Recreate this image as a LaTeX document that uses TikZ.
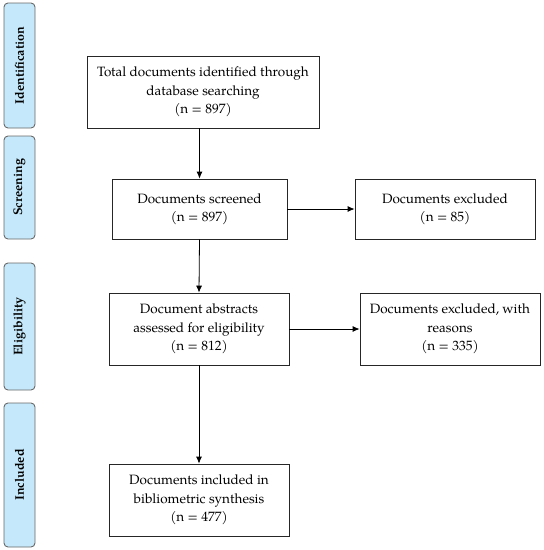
\documentclass[tikz,border=0pt]{standalone}
\usepackage{fontspec}
\setmainfont{TeX Gyre Pagella}
\usetikzlibrary{arrows.meta}
\definecolor{sideblue}{RGB}{197,233,250}
\definecolor{sideedge}{RGB}{105,105,105}
\begin{document}
\begin{tikzpicture}[x=1pt,y=-1pt,
  box/.style={draw=black!85, line width=0.8pt, align=center, inner sep=0pt,
    font=\fontsize{13.5}{18.5}\selectfont},
  side/.style={draw=sideedge, fill=sideblue, rounded corners=4pt, line width=0.9pt,
    inner sep=0pt, rotate=90, font=\fontsize{12.5}{14}\selectfont\bfseries},
  arr/.style={-{Latex[length=7pt,width=6pt]}, line width=0.8pt}]
\useasboundingbox (0,0) rectangle (544,550);
% side bars
\node[side, minimum width=125, minimum height=31] (s1) at (19.5,65.5) {Identification};
\node[side, minimum width=103, minimum height=31] (s2) at (19.5,187.5) {Screening};
\node[side, minimum width=127, minimum height=31] (s3) at (19.5,326.5) {Eligibility};
\node[side, minimum width=144, minimum height=31] (s4) at (19.5,475) {Included};
% boxes
\node[box, minimum width=232, minimum height=72] (b1) at (203,92)
  {Total documents identified through\\database searching\\(n = 897)};
\node[box, minimum width=175, minimum height=60] (b2) at (199.5,209)
  {Documents screened\\(n = 897)};
\node[box, minimum width=180, minimum height=60] (b3) at (445,209)
  {Documents excluded\\(n = 85)};
\node[box, minimum width=180, minimum height=72] (b4) at (199,329)
  {Document abstracts\\assessed for eligibility\\(n = 812)};
\node[box, minimum width=180, minimum height=72] (b5) at (450,329)
  {Documents excluded, with\\reasons\\(n = 335)};
\node[box, minimum width=180, minimum height=72] (b6) at (199,500)
  {Documents included in\\bibliometric synthesis\\(n = 477)};
% arrows
\draw[arr] (b2.north |- b1.south) -- (b2.north);
\draw[arr] (b2.south) -- (b4.north);
\draw[arr] (b4.south) -- (b6.north);
\draw[arr] (b2.east) -- (b3.west |- b2.east);
\draw[arr] (b4.east) -- (b5.west |- b4.east);
\end{tikzpicture}
\end{document}
